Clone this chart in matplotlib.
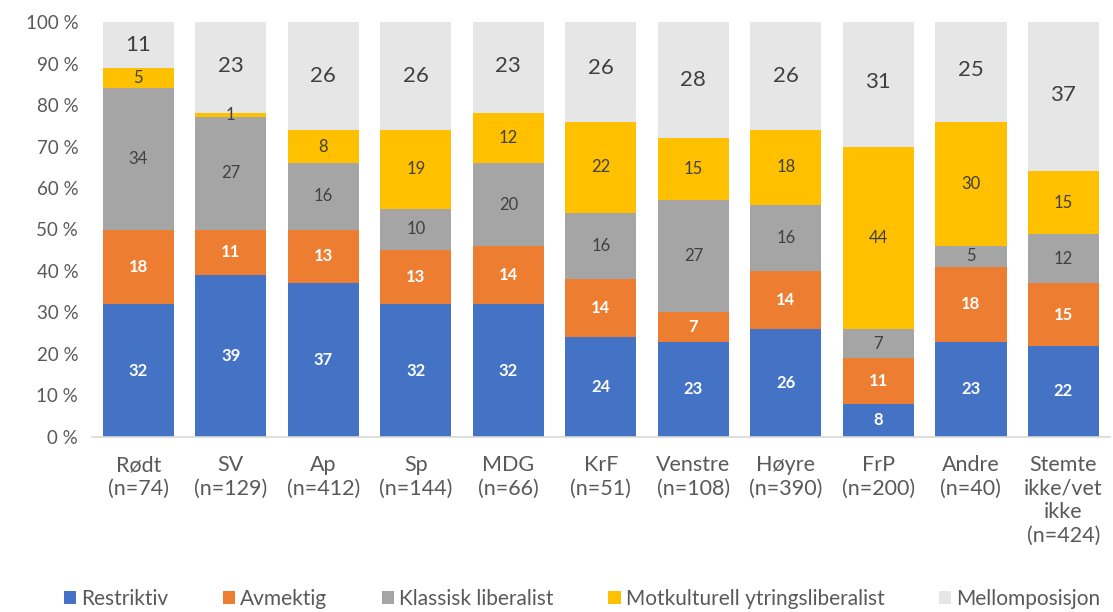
import matplotlib
matplotlib.use("Agg")
import matplotlib.pyplot as plt
import numpy as np

plt.rcParams['font.family'] = ['Lato', 'DejaVu Sans']

categories = ["Rødt\n(n=74)", "SV\n(n=129)", "Ap\n(n=412)", "Sp\n(n=144)", "MDG\n(n=66)",
              "KrF\n(n=51)", "Venstre\n(n=108)", "Høyre\n(n=390)", "FrP\n(n=200)",
              "Andre\n(n=40)", "Stemte\nikke/vet\nikke\n(n=424)"]
series_names = ["Restriktiv", "Avmektig", "Klassisk liberalist",
                "Motkulturell ytringsliberalist", "Mellomposisjon"]
restriktiv = [32, 39, 37, 32, 32, 24, 23, 26, 8, 23, 22]
avmektig = [18, 11, 13, 13, 14, 14, 7, 14, 11, 18, 15]
klassisk = [34, 27, 16, 10, 20, 16, 27, 16, 7, 5, 12]
motkulturell = [5, 1, 8, 19, 12, 22, 15, 18, 44, 30, 15]
mellom = [11, 23, 26, 26, 23, 26, 28, 26, 31, 25, 37]
yticks = [0, 10, 20, 30, 40, 50, 60, 70, 80, 90, 100]

colors = ["#4472C4", "#ED7D31", "#A5A5A5", "#FFC000", "#E7E6E6"]
label_styles = [
    dict(color="white", fontsize=12, fontweight="bold"),
    dict(color="white", fontsize=12, fontweight="bold"),
    dict(color="#404040", fontsize=12),
    dict(color="#404040", fontsize=12),
    dict(color="#404040", fontsize=16),
]

fig = plt.figure(figsize=(11.13, 6.12), dpi=100)
ax = fig.add_axes([0.0827, 0.286, 0.9143, 0.678])

x = np.arange(len(categories))
data = [restriktiv, avmektig, klassisk, motkulturell, mellom]
bottom = np.zeros(len(categories))
for vals, col, name, st in zip(data, colors, series_names, label_styles):
    vals = np.array(vals, dtype=float)
    ax.bar(x, vals, bottom=bottom, width=0.77, color=col, label=name, zorder=2)
    for xi, b, v in zip(x, bottom, vals):
        ax.text(xi, b + v / 2, f"{int(v)}", ha="center", va="center", **st, zorder=3)
    bottom = bottom + vals

ax.set_xlim(-0.5, len(categories) - 0.5)
ax.set_ylim(0, 100)
ax.set_yticks(yticks)
ax.set_yticklabels([f"{t} %" for t in yticks], fontsize=13.5, color="#595959")
ax.set_xticks(x)
ax.set_xticklabels(categories, fontsize=15.5, color="#595959", linespacing=1.22)
ax.tick_params(axis="x", length=0, pad=13)
ax.tick_params(axis="y", length=0, pad=10)
for s in ["top", "right", "left"]:
    ax.spines[s].set_visible(False)
ax.spines["bottom"].set_color("#D9D9D9")
ax.spines["bottom"].set_linewidth(1.2)

handles, labels = ax.get_legend_handles_labels()
leg = fig.legend(handles, labels, loc="center", bbox_to_anchor=(0.523, 0.022), ncol=5,
                 frameon=False, fontsize=15, handlelength=0.6, handleheight=0.6,
                 handletextpad=0.25, columnspacing=2.6)
for t in leg.get_texts():
    t.set_color("#595959")

fig.savefig("out.png", dpi=100)
